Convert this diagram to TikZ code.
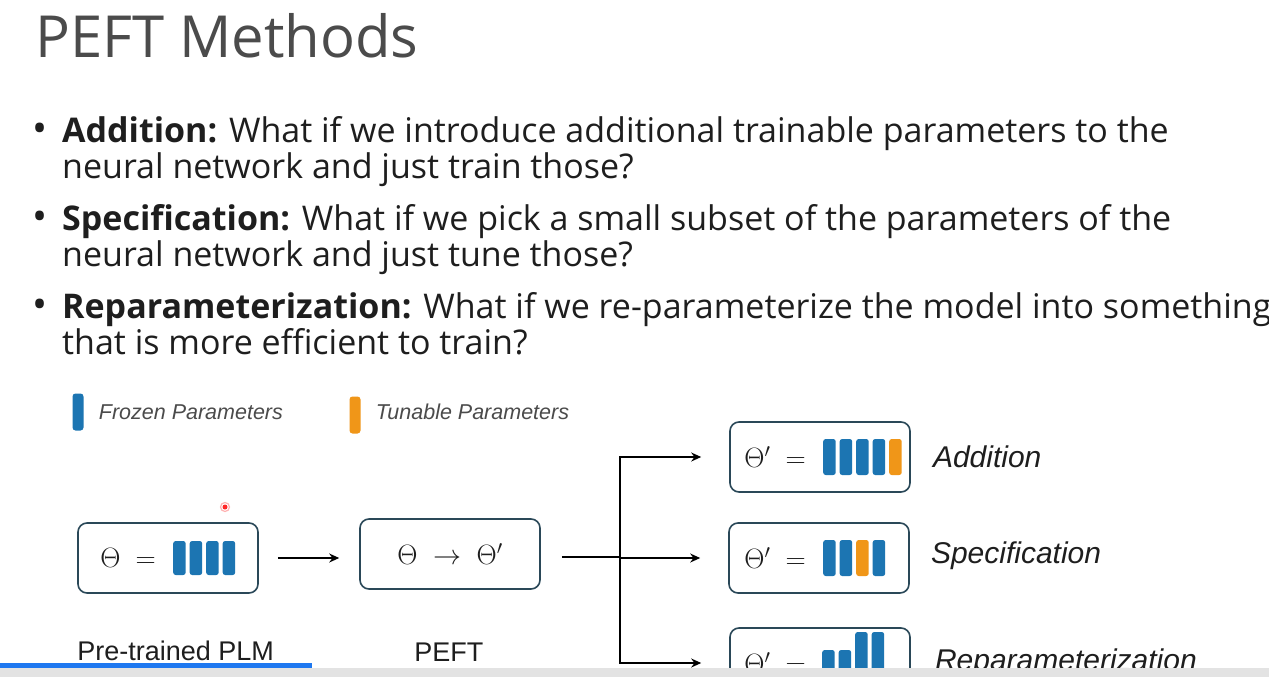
\RequirePackage{fix-cm}
\documentclass[tikz,border=0pt]{standalone}
\usepackage[no-math]{fontspec}
\setmainfont{Open Sans}
\newfontfamily\figfont{Liberation Sans}
\usepackage{amsmath}
\usepackage{xcolor}
\usetikzlibrary{calc,arrows.meta}

\definecolor{frozen}{RGB}{28,117,178}
\definecolor{tunable}{RGB}{240,150,24}
\definecolor{boxline}{RGB}{42,72,88}
\definecolor{ink}{RGB}{30,30,30}
\definecolor{progress}{RGB}{30,120,240}

\begin{document}
\begin{tikzpicture}[x=1pt,y=-1pt]
        \tikzstyle{every node}=[inner sep=0pt, text=ink]
        \tikzstyle{slide}=[anchor=base west, font=\fontsize{34}{40}\selectfont]
        \tikzstyle{box}=[draw=boxline, line width=1.6pt, rounded corners=9pt, minimum width=180pt, minimum height=70pt]
        \tikzstyle{method}=[anchor=west, font=\figfont\itshape\fontsize{30}{36}\selectfont]
        \tikzstyle{legend}=[anchor=west, font=\figfont\itshape\fontsize{21.5}{26}\selectfont, text=ink!80]
        \tikzstyle{caption}=[anchor=west, font=\figfont\fontsize{27}{32}\selectfont]
        \tikzstyle{formula}=[font=\fontsize{28}{34}\selectfont]
        \tikzstyle{link}=[line width=1.5pt, -{Stealth[length=10pt,width=9pt]}]
        \tikzstyle{keybar}=[rounded corners=3pt, minimum width=11pt, minimum height=37pt]

            \useasboundingbox (0,0) rectangle (1269,677);
            \fill[white] (0,0) rectangle (1269,677);

            % title and bullets
            \node[anchor=base west, font=\fontsize{58}{62}\selectfont, text=ink!80] (title) at (35,58) {PEFT Methods};

            \node[slide, font=\fontsize{40}{40}\selectfont] (b1) at (32,142) {\textbullet};
            \node[slide] (add1) at (62,142) {\textbf{Addition:} What if we introduce additional trainable parameters to the};
            \node[slide] (add2) at (62,178) {neural network and just train those?};
            \node[slide, font=\fontsize{40}{40}\selectfont] (b2) at (32,230) {\textbullet};
            \node[slide] (spec1) at (62,230) {\textbf{Specification:} What if we pick a small subset of the parameters of the};
            \node[slide] (spec2) at (62,266) {neural network and just tune those?};
            \node[slide, font=\fontsize{40}{40}\selectfont] (b3) at (32,318) {\textbullet};
            \node[slide] (rep1) at (62,318) {\textbf{Reparameterization:} What if we re-parameterize the model into something};
            \node[slide] (rep2) at (62,354) {that is more efficient to train?};

            % legend
            \node[keybar, fill=frozen] (frozenkey) at (78,412) {};
            \node[legend] (frozentext) at ($(frozenkey.east)+(15,0)$) {Frozen Parameters};
            \node[keybar, fill=tunable] (tunablekey) at (355,415) {};
            \node[legend] (tunabletext) at ($(tunablekey.east)+(15,-3)$) {Tunable Parameters};

            % boxes
            \node[box] (plm) at (168,558) {};
            \node[box] (peft) at (450,554) {};
            \node[box] (add) at (820,457) {};
            \node[box] (spec) at (819,558) {};
            \node[box] (rep) at (820,663) {};

            \node[formula, anchor=west] (plmf) at ($(plm.west)+(23,0)$) {$\Theta\ =$};
            \node[formula] (peftf) at (peft.center) {$\Theta\;\rightarrow\;\Theta'$};
            \node[formula, anchor=west] (addf) at ($(add.west)+(15,0)$) {$\Theta'\ =$};
            \node[formula, anchor=west] (specf) at ($(spec.west)+(16,0)$) {$\Theta'\ =$};
            \node[formula, anchor=west] (repf) at ($(rep.west)+(15,0)$) {$\Theta'\ =$};

            \foreach \i in {0,...,3}
                \fill[frozen, rounded corners=2.5pt] ($(plm.west)+(96+16.5*\i,-17)$) rectangle ++(12.5,34);
            \foreach \i/\c in {0/frozen,1/frozen,2/frozen,3/frozen,4/tunable}
                \fill[\c, rounded corners=2.5pt] ($(add.west)+(94+16.5*\i,-18)$) rectangle ++(12.5,36);
            \foreach \i/\c in {0/frozen,1/frozen,2/tunable,3/frozen}
                \fill[\c, rounded corners=2.5pt] ($(spec.west)+(95+16.5*\i,-18)$) rectangle ++(12.5,36);
            \foreach \i/\h in {0/13,1/13,2/31,3/31}
                \fill[frozen, rounded corners=2.5pt] ($(rep.west)+(93+16.5*\i,-\h)$) rectangle ++(12.5,\h+25);

            \node[method] (addname) at ($(add.east)+(22,0)$) {Addition};
            \node[method] (specname) at ($(spec.east)+(21,-2)$) {Specification};
            \node[method] (repname) at ($(rep.east)+(24,0)$) {Reparameterization};

            \node[caption] (plmname) at ($(plm.south west)+(0,57)$) {Pre-trained PLM};
            \node[caption] (peftname) at ($(peft.south west)+(55,62)$) {PEFT};

            % arrows
            \coordinate (split) at ($(peft.east)+(79,3)$);
            \draw[link, shorten <=19pt, shorten >=20pt] (plm.east) -- (plm.east -| peft.west);
            \draw[line width=1.5pt, shorten <=21pt] (peft.east |- split) -- (split);
            \draw[link, shorten >=28pt] (split) |- (add.west);
            \draw[link, shorten >=28pt] (split) |- (spec.west);
            \draw[link, shorten >=28pt] (split) |- (rep.west);

            % player overlay
            \fill[red!85] (225,507) circle (2.5);
            \draw[red!30, line width=1.2pt] (225,507) circle (4.5);
            \fill[gray!22] (0,668) rectangle (1269,677);
            \fill[progress] (0,663) rectangle (312,668);

        \end{tikzpicture}
\end{document}
